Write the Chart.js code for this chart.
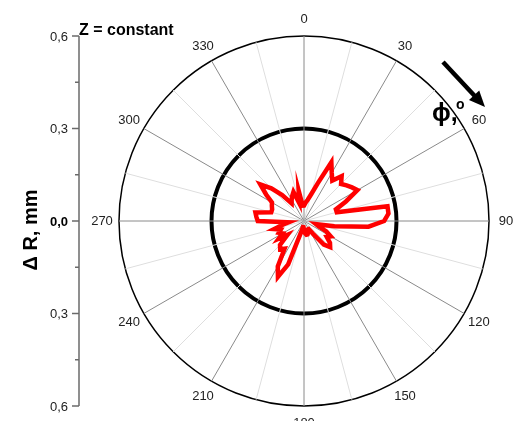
<!DOCTYPE html>
<html>
<head>
<meta charset="utf-8">
<script src="https://cdn.jsdelivr.net/npm/chart.js@4.4.1/dist/chart.umd.min.js"></script>
<style>
  html, body { margin: 0; padding: 0; background: #fff; overflow: hidden; }
  #wrap { width: 513px; height: 421px; position: relative; }
</style>
</head>
<body>
<div id="wrap"><canvas id="chart" width="513" height="421"></canvas></div>
<script>
// Measurement angle of each sample, degrees clockwise from the top
const angles = [
  0, 5, 10, 15, 20, 25, 30, 35, 40, 45, 50, 55,
  60, 65, 70, 75, 80, 85, 90, 95, 100, 105, 110, 115,
  120, 125, 130, 135, 140, 145, 150, 155, 160, 165, 170, 175,
  180, 185, 190, 195, 200, 205, 210, 215, 220, 225, 230, 235,
  240, 245, 250, 255, 260, 265, 270, 275, 280, 285, 290, 295,
  300, 305, 310, 315, 320, 325, 330, 335, 340, 345, 350, 355
];

// Radial deviation ΔR (mm) at each angle
const deltaR = [
  0.05, 0.06, 0.07, 0.09, 0.13, 0.21, 0.18, 0.16, 0.19, 0.17, 0.18, 0.19,
  0.20, 0.15, 0.11, 0.11, 0.275, 0.275, 0.26, 0.21, 0.10, 0.04, 0.05, 0.08,
  0.10, 0.09, 0.11, 0.12, 0.10, 0.05, 0.03, 0.03, 0.04, 0.045, 0.045, 0.04,
  0.03, 0.02, 0.02, 0.04, 0.15, 0.20, 0.17, 0.11, 0.12, 0.11, 0.07, 0.10,
  0.08, 0.09, 0.08, 0.10, 0.07, 0.05, 0.15, 0.155, 0.16, 0.11, 0.11, 0.115,
  0.12, 0.15, 0.185, 0.15, 0.11, 0.07, 0.08, 0.09, 0.10, 0.06, 0.10, 0.05
];

// Labelled angles around the rim
const angleTicks = [0, 30, 60, 90, 120, 150, 180, 210, 240, 270, 300, 330];

// Radial axis: range, labelled ticks and minor ticks (mm)
const radialMax = 0.6;
const radialTicks = [0, 0.3, 0.6];
const radialMinorTicks = [0.15, 0.45];

// Reference circle (nominal radius) on the radial scale
const nominalCircle = 0.3;

const FONT = '"Liberation Sans", Arial, Helvetica, sans-serif';
const fmt = v => v.toFixed(1).replace('.', ',');
const near = (a, b) => Math.abs(a - b) < 1e-6;

// Vertical ΔR axis at the left, scaled by the radial scale
const leftAxis = {
  id: 'leftAxis',
  afterDraw(chart) {
    const r = chart.scales.r;
    const ctx = chart.ctx;
    const x = 79;
    const yc = r.yCenter;
    const full = r.getDistanceFromCenterForValue(radialMax);
    ctx.save();
    ctx.strokeStyle = '#6a6a6a';
    ctx.lineWidth = 1.5;
    ctx.beginPath();
    ctx.moveTo(x, yc - full);
    ctx.lineTo(x, yc + full);
    ctx.stroke();
    ctx.textAlign = 'right';
    ctx.textBaseline = 'middle';
    radialTicks.forEach(v => {
      const d = r.getDistanceFromCenterForValue(v);
      const ys = v === 0 ? [yc] : [yc - d, yc + d];
      ys.forEach(y => {
        ctx.beginPath();
        ctx.moveTo(x - 7, y);
        ctx.lineTo(x, y);
        ctx.stroke();
        ctx.font = (v === 0 ? 'bold ' : '') + '13px ' + FONT;
        ctx.fillStyle = v === 0 ? '#000' : '#222';
        ctx.fillText(fmt(v), x - 11, y + 1);
      });
    });
    radialMinorTicks.forEach(v => {
      const d = r.getDistanceFromCenterForValue(v);
      [yc - d, yc + d].forEach(y => {
        ctx.beginPath();
        ctx.moveTo(x - 4, y);
        ctx.lineTo(x, y);
        ctx.stroke();
      });
    });
    // axis title
    ctx.translate(31, 230);
    ctx.rotate(-Math.PI / 2);
    ctx.textAlign = 'center';
    ctx.textBaseline = 'middle';
    ctx.fillStyle = '#000';
    ctx.font = 'bold 20px ' + FONT;
    ctx.fillText('\u0394 R, mm', 0, 0);
    ctx.restore();
  }
};

// Angle labels around the rim and the annotations
const rimLabels = {
  id: 'rimLabels',
  afterDraw(chart) {
    const r = chart.scales.r;
    const ctx = chart.ctx;
    ctx.save();
    ctx.font = '13px ' + FONT;
    ctx.fillStyle = '#222';
    ctx.textAlign = 'center';
    ctx.textBaseline = 'middle';
    angleTicks.forEach(a => {
      const i = angles.indexOf(a);
      const p = r.getPointPosition(i, r.drawingArea + 17);
      ctx.fillText(String(a), p.x, p.y);
    });

    ctx.fillStyle = '#000';
    ctx.textAlign = 'left';
    ctx.textBaseline = 'alphabetic';
    ctx.font = 'bold 16px ' + FONT;
    ctx.fillText('Z = constant', 79, 35);

    ctx.font = 'bold 25px ' + FONT;
    ctx.fillText('\u03D5,', 432, 121);
    ctx.font = 'bold 14px ' + FONT;
    ctx.fillText('o', 456, 109);

    // direction arrow
    const x0 = 443, y0 = 62, x1 = 485, y1 = 107;
    const len = Math.hypot(x1 - x0, y1 - y0);
    const ux = (x1 - x0) / len, uy = (y1 - y0) / len;
    const hl = 16, hw = 7;
    const bx = x1 - ux * hl, by = y1 - uy * hl;
    ctx.strokeStyle = '#000';
    ctx.lineWidth = 4.5;
    ctx.beginPath();
    ctx.moveTo(x0, y0);
    ctx.lineTo(bx + ux * 2, by + uy * 2);
    ctx.stroke();
    ctx.beginPath();
    ctx.moveTo(x1, y1);
    ctx.lineTo(bx - uy * hw, by + ux * hw);
    ctx.lineTo(bx + uy * hw, by - ux * hw);
    ctx.closePath();
    ctx.fill();
    ctx.restore();
  }
};

new Chart(document.getElementById('chart'), {
  type: 'radar',
  data: {
    labels: angles.map(String),
    datasets: [{
      label: '\u0394R',
      data: deltaR,
      borderColor: '#ff0000',
      borderWidth: 4.5,
      borderJoinStyle: 'miter',
      backgroundColor: 'transparent',
      fill: false,
      pointRadius: 0,
      pointHoverRadius: 0,
      tension: 0
    }]
  },
  options: {
    responsive: false,
    animation: false,
    devicePixelRatio: 1,
    layout: { padding: { left: 119, right: 23, top: 36, bottom: 15 } },
    plugins: { legend: { display: false }, tooltip: { enabled: false } },
    scales: {
      r: {
        min: 0,
        max: radialMax,
        startAngle: 0,
        ticks: { display: false, stepSize: 0.3 },
        pointLabels: { display: false },
        grid: {
          circular: true,
          color: c => (near(c.tick.value, nominalCircle) || near(c.tick.value, radialMax)) ? '#000' : 'transparent',
          lineWidth: c => near(c.tick.value, nominalCircle) ? 4 : (near(c.tick.value, radialMax) ? 1.5 : 0)
        },
        angleLines: {
          display: true,
          color: c => (angles[c.index] % 30 === 0) ? '#8a8a8a' : '#dedede',
          lineWidth: c => (angles[c.index] % 15 === 0) ? 1 : 0
        }
      }
    }
  },
  plugins: [leftAxis, rimLabels]
});
</script>
</body>
</html>
